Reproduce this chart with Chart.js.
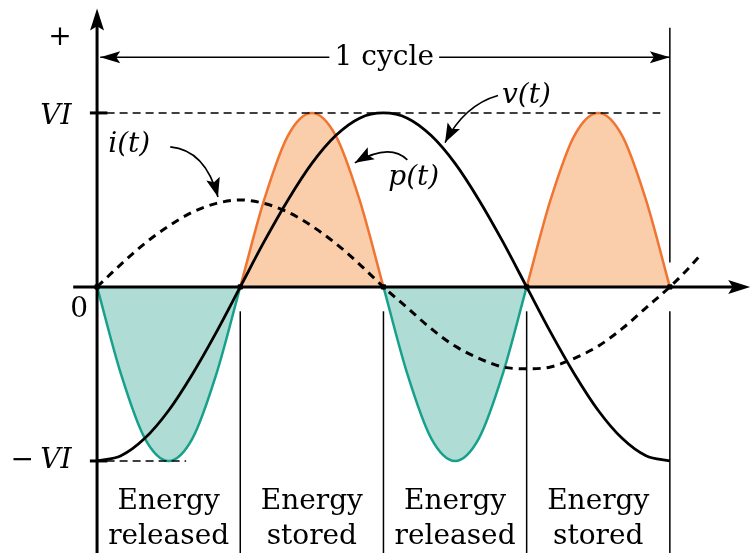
<!DOCTYPE html>
<html>
<head>
<meta charset="utf-8">
<script src="https://cdn.jsdelivr.net/npm/chart.js@4.4.0/dist/chart.umd.min.js"></script>
<style>
  html, body { margin: 0; padding: 0; background: #fff; }
  canvas { display: block; }
</style>
</head>
<body>
<canvas id="powerChart" width="751" height="553"></canvas>
<script>
// Angles in degrees over one cycle, values in units of VI
const angles = [0, 15, 30, 45, 60, 75, 90, 105, 120, 135, 150, 165, 180,
                195, 210, 225, 240, 255, 270, 285, 300, 315, 330, 345, 360];

// v(t) - solid black
const vValues = [-1, -0.97, -0.87, -0.71, -0.5, -0.26, 0, 0.26, 0.5, 0.71, 0.87, 0.97, 1,
                 0.97, 0.87, 0.71, 0.5, 0.26, 0, -0.26, -0.5, -0.71, -0.87, -0.97, -1];

// i(t) - dashed, runs a little past the cycle
const iAngles = angles.concat([370, 378]);
const iValues = [0, 0.13, 0.25, 0.35, 0.43, 0.48, 0.5, 0.48, 0.43, 0.35, 0.25, 0.13, 0,
                 -0.12, -0.24, -0.34, -0.41, -0.46, -0.47, -0.46, -0.41, -0.34, -0.24, -0.12, 0,
                 0.09, 0.17];

// p(t) - orange when stored, teal when released
const pValues = [0, -0.5, -0.87, -1, -0.87, -0.5, 0, 0.5, 0.87, 1, 0.87, 0.5, 0,
                 -0.5, -0.87, -1, -0.87, -0.5, 0, 0.5, 0.87, 1, 0.87, 0.5, 0];

// zero crossings marked on the time axis
const crossAngles = [0, 90, 180, 270, 360];

// region labels below the plot
const regionAngles = [45, 135, 225, 315];
const regionLabels = [['Energy', 'released'], ['Energy', 'stored'],
                      ['Energy', 'released'], ['Energy', 'stored']];

const xMin = -61, xMax = 411;
const yMin = -1.529, yMax = 1.649;

const orange = '#f07432';
const orangeFill = '#facdab';
const teal = '#17a08b';
const tealFill = '#afdcd4';

const toPoints = (xs, ys) => xs.map((x, k) => ({ x: x, y: ys[k] }));

// draws the axes, arrows and text around the curves
const figurePlugin = {
  id: 'figure',
  afterDatasetsDraw(chart) {
    const ctx = chart.ctx;
    const X = d => chart.scales.x.getPixelForValue(d);
    const Y = v => chart.scales.y.getPixelForValue(v);

    function line(x1, y1, x2, y2) {
      ctx.beginPath();
      ctx.moveTo(x1, y1);
      ctx.lineTo(x2, y2);
      ctx.stroke();
    }
    function head(tx, ty, fx, fy, len, half) {
      const a = Math.atan2(ty - fy, tx - fx);
      ctx.beginPath();
      ctx.moveTo(tx, ty);
      ctx.lineTo(tx - len * Math.cos(a) + half * Math.sin(a), ty - len * Math.sin(a) - half * Math.cos(a));
      ctx.lineTo(tx - len * Math.cos(a) * 0.8, ty - len * Math.sin(a) * 0.8);
      ctx.lineTo(tx - len * Math.cos(a) - half * Math.sin(a), ty - len * Math.sin(a) + half * Math.cos(a));
      ctx.closePath();
      ctx.fill();
    }
    function curveArrow(s, c, t) {
      ctx.lineWidth = 1.6;
      ctx.beginPath();
      ctx.moveTo(X(s[0]), Y(s[1]));
      ctx.quadraticCurveTo(X(c[0]), Y(c[1]), X(t[0]), Y(t[1]));
      ctx.stroke();
      head(X(t[0]), Y(t[1]), X(c[0]), Y(c[1]), 19, 7);
    }
    function text(str, d, v, font, align) {
      ctx.font = font;
      ctx.textAlign = align || 'center';
      ctx.textBaseline = 'middle';
      ctx.fillText(str, X(d), Y(v));
    }

    ctx.save();
    ctx.strokeStyle = '#000';
    ctx.fillStyle = '#000';

    // region dividers
    ctx.lineWidth = 1.5;
    crossAngles.slice(1).forEach(d => line(X(d), Y(-0.14), X(d), Y(yMin)));
    line(X(360), Y(1.49), X(360), Y(0.14));

    // dashed VI guides
    ctx.setLineDash([8, 5]);
    line(X(6), Y(1), X(354), Y(1));
    line(X(6), Y(-1), X(56), Y(-1));
    ctx.setLineDash([]);

    // axes
    ctx.lineWidth = 3;
    line(X(0), Y(1.5), X(0), Y(yMin));
    head(X(0), Y(1.6), X(0), Y(1.0), 22, 7);
    line(X(-15), Y(0), X(400), Y(0));
    head(X(410.5), Y(0), X(300), Y(0), 22, 7);
    line(X(-4.5), Y(1), X(6.5), Y(1));
    line(X(-4.5), Y(-1), X(6.5), Y(-1));

    // one cycle dimension arrow
    ctx.lineWidth = 1.5;
    line(X(2), Y(1.32), X(146), Y(1.32));
    line(X(215), Y(1.32), X(360), Y(1.32));
    head(X(2), Y(1.32), X(50), Y(1.32), 20, 6);
    head(X(360), Y(1.32), X(300), Y(1.32), 20, 6);

    // pointer arrows to the curve names
    curveArrow([46, 0.805], [68, 0.787], [76, 0.517]);
    curveArrow([252, 1.10], [231, 1.046], [218.7, 0.83]);
    curveArrow([195, 0.73], [184, 0.83], [162, 0.713]);

    const upright = "28px 'DejaVu Serif'";
    const italic = "italic 28px 'DejaVu Serif'";
    text('+', -23.3, 1.43, upright);
    text('1 cycle', 180.5, 1.32, upright);
    text('VI', -16, 0.98, italic, 'right');
    text('VI', -16, -1.0, italic, 'right');
    text('\u2212', -47, -1.0, upright);
    text('0', -5.7, -0.13, upright, 'right');
    text('i(t)', 7, 0.816, italic, 'left');
    text('v(t)', 254.5, 1.10, italic, 'left');
    text('p(t)', 183, 0.626, italic, 'left');

    regionAngles.forEach((d, k) => {
      text(regionLabels[k][0], d, -1.236, upright);
      text(regionLabels[k][1], d, -1.437, upright);
    });
    ctx.restore();
  }
};

const chart = new Chart(document.getElementById('powerChart'), {
  type: 'line',
  data: {
    datasets: [
      {
        label: 'p(t)',
        data: toPoints(angles, pValues),
        order: 3,
        borderWidth: 2.5,
        borderColor: orange,
        segment: {
          borderColor: c => (c.p0.parsed.y + c.p1.parsed.y) >= 0 ? orange : teal
        },
        fill: { target: 'origin', above: orangeFill, below: tealFill },
        cubicInterpolationMode: 'monotone',
        pointRadius: 0
      },
      {
        label: 'i(t)',
        data: toPoints(iAngles, iValues),
        order: 2,
        borderWidth: 3,
        borderColor: '#000',
        borderDash: [8, 6],
        fill: false,
        cubicInterpolationMode: 'monotone',
        pointRadius: 0
      },
      {
        label: 'v(t)',
        data: toPoints(angles, vValues),
        order: 1,
        borderWidth: 2.8,
        borderColor: '#000',
        fill: false,
        cubicInterpolationMode: 'monotone',
        pointRadius: 0
      },
      {
        label: 'crossings',
        data: crossAngles.map(d => ({ x: d, y: 0 })),
        order: 0,
        showLine: false,
        pointStyle: 'rect',
        pointRadius: 3,
        pointBackgroundColor: '#000',
        pointBorderColor: '#000'
      }
    ]
  },
  options: {
    responsive: false,
    animation: false,
    layout: { padding: 0, autoPadding: false },
    plugins: {
      legend: { display: false },
      tooltip: { enabled: false }
    },
    scales: {
      x: { type: 'linear', min: xMin, max: xMax, display: false },
      y: { type: 'linear', min: yMin, max: yMax, display: false }
    }
  },
  plugins: [figurePlugin]
});
</script>
</body>
</html>
